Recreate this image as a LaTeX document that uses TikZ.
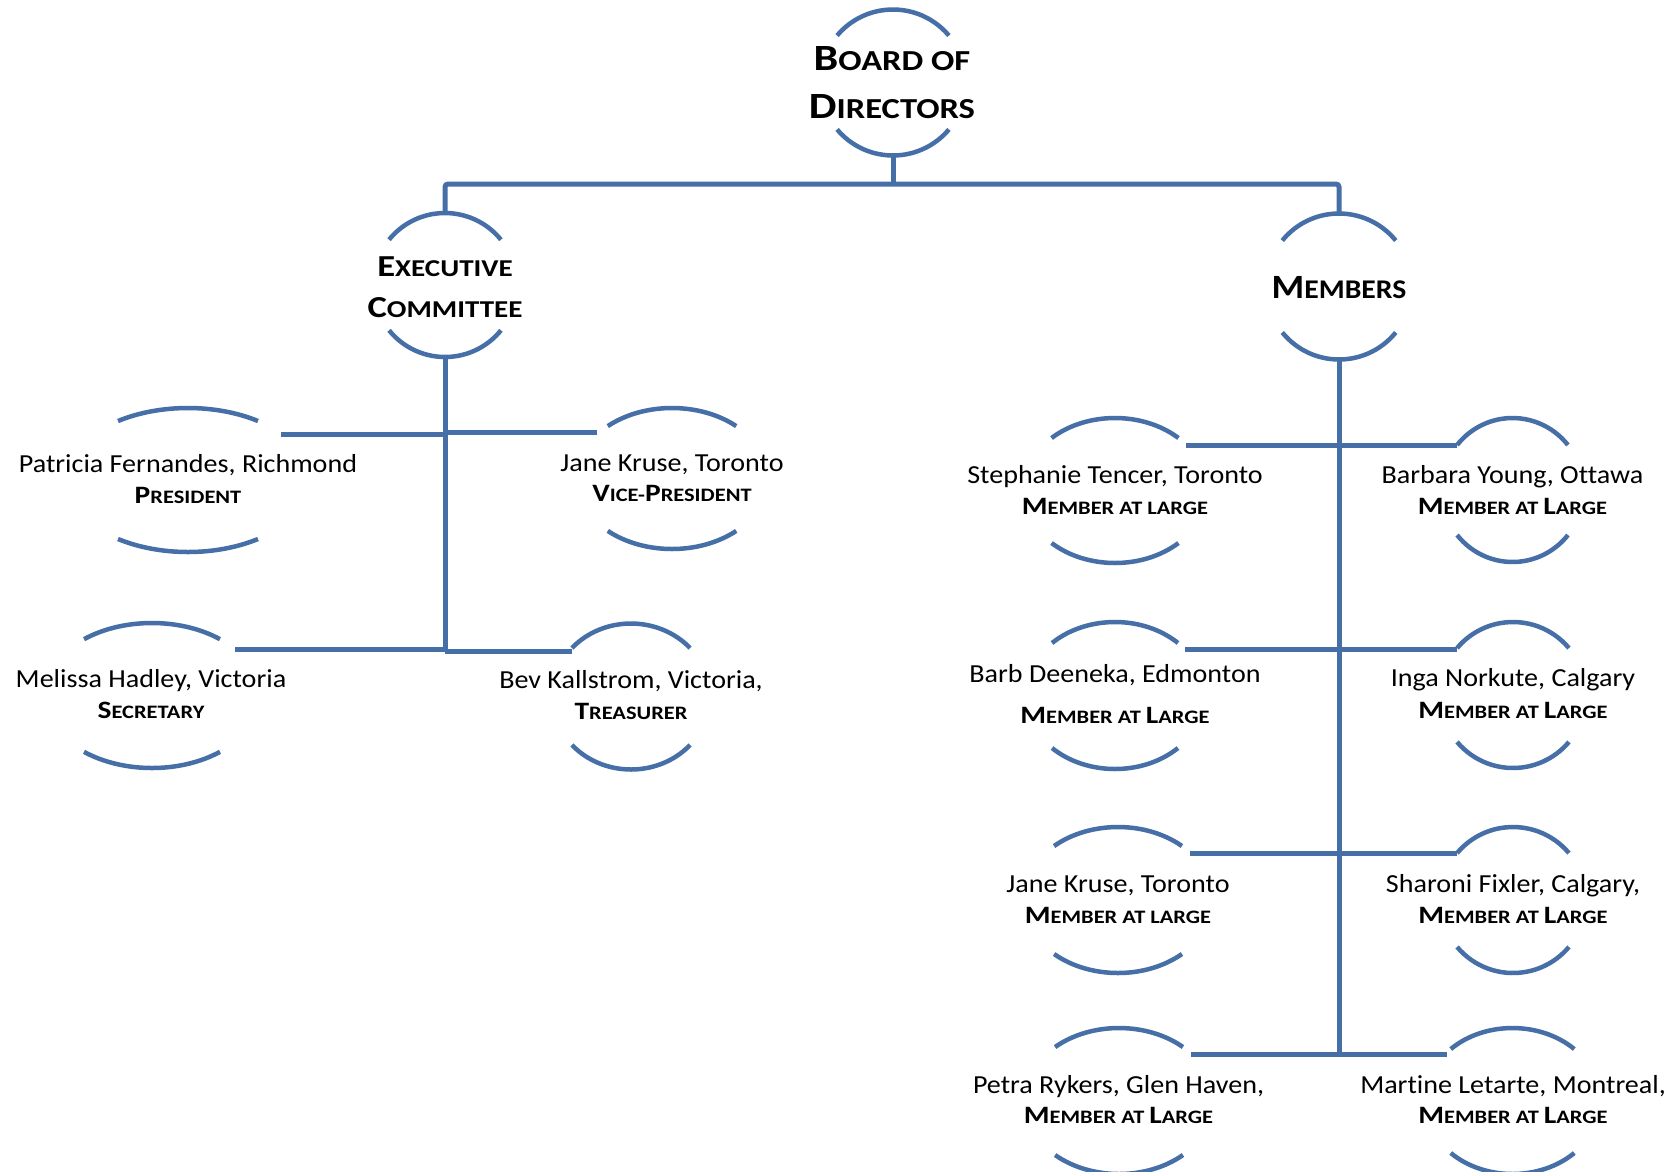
\documentclass[tikz,border=0pt]{standalone}
\usepackage{graphicx}
\usepackage{fontspec}
\setmainfont{Carlito}[Ligatures=NoCommon]
\usetikzlibrary{calc}
\definecolor{orgblue}{RGB}{70,111,168}
\newcommand\rb[1]{{\fontsize{25}{28}\selectfont\bfseries #1}}
\newcommand\rs[1]{{\fontsize{19}{22}\selectfont\bfseries #1}}
\newcommand\Hb[2]{{\fontsize{#1}{#1}\selectfont\bfseries #2}}
\newcommand\hst[2]{\scalebox{#1}[1]{#2}}
\newcommand\rolebox[1]{\scalebox{1.18}[1]{#1}}
\newcommand\namebox[1]{\scalebox{1.08}[1]{#1}}
% #1 centre, #2 x radius, #3 y radius, #4 parametric angle of arc ends
\newcommand\halfarcs[4]{%
  \draw[arcline] (#1) ++({#2*cos(#4)},{#3*sin(#4)}) arc[start angle=#4, end angle={180-#4}, x radius=#2pt, y radius=#3pt];
  \draw[arcline] (#1) ++({-#2*cos(#4)},{-#3*sin(#4)}) arc[start angle={180+#4}, end angle={360-#4}, x radius=#2pt, y radius=#3pt];
}
\begin{document}
\begin{tikzpicture}[x=1pt,y=1pt,
  arcline/.style={draw=orgblue,line width=4.5pt},
  conn/.style={draw=orgblue,line width=5pt},
  namet/.style={anchor=base,inner sep=0pt,font=\fontsize{26}{30}\selectfont},
  rolet/.style={anchor=base,inner sep=0pt},
  headt/.style={anchor=base,inner sep=0pt}]
\useasboundingbox (0,0) rectangle (1677,-1171);
\fill[white] (0,0) rectangle (1677,-1171);

% ---- centres of the half-circle frames
\coordinate (board) at (893,-82.5);
\coordinate (exec) at (445,-285);
\coordinate (mem) at (1339,-286.5);
\coordinate (pres) at (188,-480);
\coordinate (vp) at (672,-478.5);
\coordinate (sec) at (152,-695.5);
\coordinate (treas) at (631,-696.5);
\coordinate (steph) at (1115,-490.5);
\coordinate (barb) at (1512.5,-490);
\coordinate (barbd) at (1115,-695.5);
\coordinate (inga) at (1513,-695);
\coordinate (jane) at (1118,-900);
\coordinate (sharoni) at (1513,-900);
\coordinate (petra) at (1119,-1101);
\coordinate (martine) at (1512.5,-1101);

% ---- frames
\halfarcs{board}{73}{73}{40}
\halfarcs{exec}{72}{72}{39}
\halfarcs{mem}{73}{73}{39}
\halfarcs{pres}{122}{72}{55}
\halfarcs{vp}{96}{70.5}{48}
\halfarcs{sec}{108}{72.5}{51}
\halfarcs{treas}{79}{73}{41.6}
\halfarcs{steph}{92}{72.5}{46.4}
\halfarcs{barb}{71}{72}{38.7}
\halfarcs{barbd}{90}{73.5}{45.6}
\halfarcs{inga}{73}{73}{40}
\halfarcs{jane}{95}{73}{47.7}
\halfarcs{sharoni}{73}{73}{40}
\halfarcs{petra}{95}{73}{47.7}
\halfarcs{martine}{88}{73}{45.4}

% ---- connector points
\coordinate (board-b) at (893,-155.5);
\coordinate (jn) at (893,-184);
\coordinate (exec-t) at (445,-213);
\coordinate (exec-b) at (445,-357);
\coordinate (exec-end) at (445,-651);
\coordinate (mem-t) at (1339,-213.5);
\coordinate (mem-b) at (1339,-359.5);
\coordinate (mem-end) at (1339,-1054);
\coordinate (pres-in) at (281,-434);
\coordinate (vp-in) at (597,-432);
\coordinate (sec-in) at (235,-649);
\coordinate (treas-in) at (572,-651);
\coordinate (steph-in) at (1186,-445);
\coordinate (barb-in) at (1457,-445);
\coordinate (barbd-in) at (1185,-649);
\coordinate (inga-in) at (1457,-649);
\coordinate (jane-in) at (1190,-853);
\coordinate (sharoni-in) at (1457,-853);
\coordinate (petra-in) at (1191,-1054);
\coordinate (martine-in) at (1447,-1054);

% ---- connectors
\draw[conn] (board-b) -- (jn);
\draw[conn,rounded corners=3pt] (exec-t) -- (exec-t |- jn) -- (mem-t |- jn) -- (mem-t);
\draw[conn] (exec-b) -- (exec-end);
\draw[conn] (pres-in) -- (pres-in -| exec-b);
\draw[conn] (vp-in) -- (vp-in -| exec-b);
\draw[conn] (sec-in) -- (sec-in -| exec-b);
\draw[conn] (treas-in) -- (treas-in -| exec-b);
\draw[conn] (mem-b) -- (mem-end);
\draw[conn] (steph-in) -- (barb-in);
\draw[conn] (barbd-in) -- (inga-in);
\draw[conn] (jane-in) -- (sharoni-in);
\draw[conn] (petra-in) -- (martine-in);

% ---- headings
\node[headt] (board1) at (892,-70) {\hst{1.19}{\Hb{37}{B}\Hb{29}{OARD OF}}};
\node[headt] (board2) at (892,-118) {\hst{1.19}{\Hb{37}{D}\Hb{29}{IRECTORS}}};
\node[headt] (exec1) at (445,-276) {\hst{1.2}{\Hb{30.5}{E}\Hb{24.2}{XECUTIVE}}};
\node[headt] (exec2) at (445,-317) {\hst{1.2}{\Hb{30.5}{C}\Hb{24.2}{OMMITTEE}}};
\node[headt] (mem1) at (1339,-298) {\hst{1.1}{\Hb{34}{M}\Hb{27}{EMBERS}}};

% ---- people
\node[namet] (presn) at (188,-472) {\namebox{Patricia Fernandes, Richmond}};
\node[rolet] (presr) at (188,-503) {\rolebox{\rb{P}\rs{RESIDENT}}};
\node[namet] (vpn) at (672,-471) {\namebox{Jane Kruse, Toronto}};
\node[rolet] (vpr) at (672,-501) {\rolebox{\rb{V}\rs{ICE-}\rb{P}\rs{RESIDENT}}};
\node[namet] (secn) at (151,-687) {\namebox{Melissa Hadley, Victoria}};
\node[rolet] (secr) at (151,-718) {\rolebox{\rb{S}\rs{ECRETARY}}};
\node[namet] (treasn) at (631,-688) {\namebox{Bev Kallstrom, Victoria,}};
\node[rolet] (treasr) at (631,-719) {\rolebox{\rb{T}\rs{REASURER}}};

\node[namet] (stephn) at (1115,-483) {\namebox{Stephanie Tencer, Toronto}};
\node[rolet] (stephr) at (1115,-514) {\rolebox{\rb{M}\rs{EMBER AT LARGE}}};
\node[namet] (barbn) at (1512.5,-483) {\namebox{Barbara Young, Ottawa}};
\node[rolet] (barbr) at (1512.5,-514) {\rolebox{\rb{M}\rs{EMBER AT }\rb{L}\rs{ARGE}}};
\node[namet] (barbdn) at (1115,-682) {\namebox{Barb Deeneka, Edmonton}};
\node[rolet] (barbdr) at (1115,-723) {\rolebox{\rb{M}\rs{EMBER AT }\rb{L}\rs{ARGE}}};
\node[namet] (ingan) at (1513,-686) {\namebox{Inga Norkute, Calgary}};
\node[rolet] (ingar) at (1513,-718) {\rolebox{\rb{M}\rs{EMBER AT }\rb{L}\rs{ARGE}}};
\node[namet] (janen) at (1118,-892) {\namebox{Jane Kruse, Toronto}};
\node[rolet] (janer) at (1118,-923) {\rolebox{\rb{M}\rs{EMBER AT LARGE}}};
\node[namet] (sharonin) at (1513,-892) {\namebox{Sharoni Fixler, Calgary,}};
\node[rolet] (sharonir) at (1513,-923) {\rolebox{\rb{M}\rs{EMBER AT }\rb{L}\rs{ARGE}}};
\node[namet] (petran) at (1118.5,-1093) {\namebox{Petra Rykers, Glen Haven,}};
\node[rolet] (petrar) at (1118.5,-1123) {\rolebox{\rb{M}\rs{EMBER AT }\rb{L}\rs{ARGE}}};
\node[namet] (martinen) at (1513,-1093) {\namebox{Martine Letarte, Montreal,}};
\node[rolet] (martiner) at (1513,-1123) {\rolebox{\rb{M}\rs{EMBER AT }\rb{L}\rs{ARGE}}};
\end{tikzpicture}
\end{document}
